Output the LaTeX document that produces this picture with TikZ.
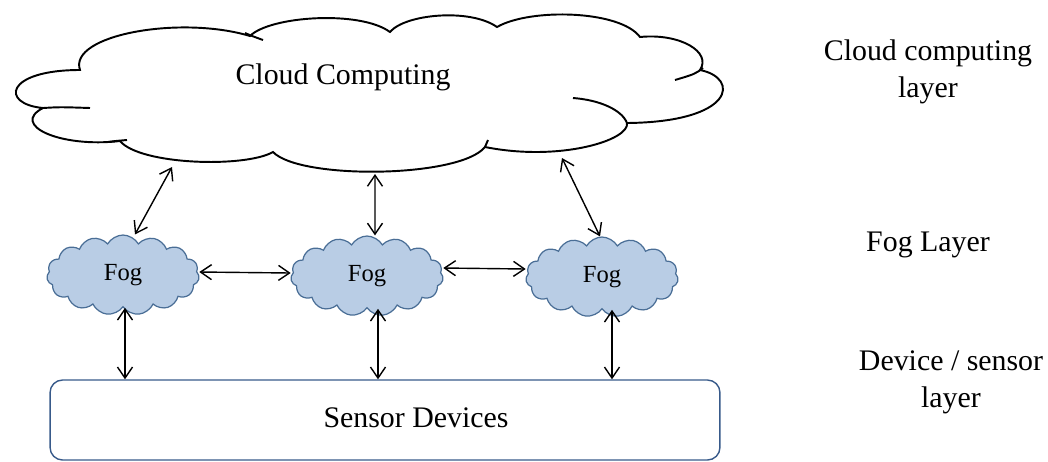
\documentclass[tikz,border=0pt]{standalone}
\usepackage{fontspec}
\setmainfont{Liberation Serif}
\usetikzlibrary{shapes.symbols,arrows.meta}
\definecolor{fogfill}{RGB}{185,205,229}
\definecolor{fogline}{RGB}{74,110,150}
\definecolor{boxline}{RGB}{56,90,138}

\begin{document}
\begin{tikzpicture}[x=0.02cm,y=-0.02cm,>={Straight Barb[length=2.2mm,width=3mm]},line width=0.8pt]
\useasboundingbox (0,0) rectangle (1048,461);

% cloud layer, outline plus the small inner curls
\draw[line width=1.1pt] (80,70) .. controls (68,35) and (180,15) .. (250,36)
  .. controls (270,16) and (360,10) .. (390,32)
  .. controls (405,14) and (470,8) .. (497,27)
  .. controls (530,8) and (620,10) .. (640,37)
  .. controls (680,33) and (712,52) .. (700,70)
  .. controls (740,78) and (735,122) .. (627,123)
  .. controls (630,140) and (560,162) .. (485,147)
  .. controls (460,178) and (300,180) .. (273,152)
  .. controls (245,168) and (140,165) .. (120,141)
  .. controls (60,148) and (10,125) .. (43,108)
  .. controls (0,104) and (5,70) .. (80,70) -- cycle;
\draw[line width=1.1pt] (245,33) .. controls (252,36) .. (263,40)
  (703,68) .. controls (695,74) .. (675,80)
  (573,98) .. controls (600,100) and (622,110) .. (627,123)
  (485,147) -- (488,140)
  (108,142) .. controls (115,141) .. (127,140)
  (43,108) .. controls (60,107) .. (90,108);
\node[font=\fontsize{17}{21}\selectfont] (cctext) at (343,77) {Cloud Computing};

% fog layer
\foreach [count=\i] \x/\y in {123/275,367/276,602/277}
\draw (\x,\y) node[cloud,draw=fogline,fill=fogfill,line width=0.7pt,cloud puffs=15,cloud puff arc=120,cloud ignores aspect,minimum width=3.05cm,minimum height=1.6cm,font=\fontsize{14}{16}\selectfont] (fog\i) {Fog};

% device layer
\node[draw=boxline,rounded corners=0.25cm,minimum width=13.4cm,minimum height=1.6cm] (sensors) at (385,420) {};
\node[font=\fontsize{17}{21}\selectfont] (senstext) at (416,418) {Sensor Devices};

% layer names
\node[align=center,font=\fontsize{17}{21}\selectfont] (cclayer) at (928,72) {Cloud computing\\layer};
\node[font=\fontsize{17}{21}\selectfont] (foglayer) at (928,245) {Fog Layer};
\node[align=center,font=\fontsize{17}{21}\selectfont] (devlayer) at (951,382) {Device / sensor\\layer};

% links
\coordinate (up1) at (172,167);
\coordinate (up2) at (375,174);
\coordinate (up3) at (562,158);
\draw[<->] (up1) -- ([xshift=0.24cm]fog1.north);
\draw[<->] (up2) -- ([xshift=0.16cm]fog2.north);
\draw[<->] (up3) -- ([xshift=-0.04cm]fog3.north);
\foreach \i/\j/\s in {1/2/0.06,2/3/0.16}
\draw[<->] ([yshift=\s cm]fog\i.east) -- ([yshift=\s cm]fog\j.west);
\foreach \i/\s in {1/0.04,2/0.22,3/0.2}
\draw[<->] ([xshift=\s cm]fog\i.south) -- ([xshift=\s cm]fog\i.south |- sensors.north);

\end{tikzpicture}
\end{document}
